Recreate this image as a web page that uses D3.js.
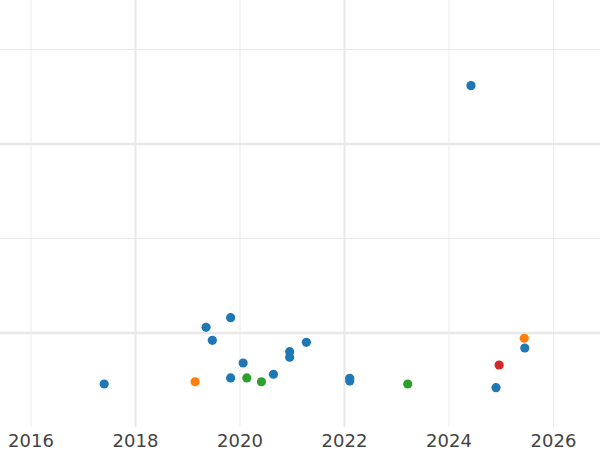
<!DOCTYPE html>
<html>
<head>
<meta charset="utf-8">
<script src="https://cdn.jsdelivr.net/npm/d3@7"></script>
<style>
  html, body { margin: 0; padding: 0; background: #fff; }
  svg { display: block; }
</style>
</head>
<body>
<svg id="chart" width="600" height="450"></svg>
<script>
// ---- data ----
const seriesNames = ["Group A", "Group B", "Group C", "Group D"];
const seriesColors = ["#1f77b4", "#ff7f0e", "#2ca02c", "#d62728"];

const groupAYears  = [2017.41, 2019.36, 2019.48, 2019.83, 2019.83, 2020.07, 2020.65, 2020.96, 2020.96, 2021.28, 2022.11, 2022.11, 2024.91, 2025.46, 2024.43];
const groupAValues = [0.455,   1.055,   0.917,   1.157,   0.519,   0.677,   0.558,   0.797,   0.738,   0.896,   0.515,   0.487,   0.416,   0.836,   3.612];
const groupBYears  = [2019.15, 2025.45];
const groupBValues = [0.479,   0.939];
const groupCYears  = [2020.14, 2020.42, 2023.22];
const groupCValues = [0.519,   0.479,   0.455];
const groupDYears  = [2024.97];
const groupDValues = [0.656];

const xTickValues = [2016, 2018, 2020, 2022, 2024, 2026];
const xTickLabels = ["2016", "2018", "2020", "2022", "2024", "2026"];
const xMajorTicks = [2018, 2022];
const yMinorTicks = [2, 4];
const yMajorTicks = [1, 3];

// ---- layout ----
const W = 600, plotH = 427;
const svg = d3.select("#chart");

const x = d3.scaleLinear().domain([2015.416, 2026.9]).range([0, W]);
const y = d3.scaleLinear().domain([0, 4.518]).range([plotH, 0]);

// gridlines
const grid = svg.append("g");
grid.append("g")
  .call(d3.axisBottom(x).tickValues(xTickValues.filter(v => !xMajorTicks.includes(v))).tickSize(plotH).tickFormat(""))
  .call(g => g.select(".domain").remove())
  .call(g => g.selectAll("line").attr("stroke", "#ebebeb").attr("stroke-width", 1));
grid.append("g")
  .call(d3.axisBottom(x).tickValues(xMajorTicks).tickSize(plotH).tickFormat(""))
  .call(g => g.select(".domain").remove())
  .call(g => g.selectAll("line").attr("stroke", "#e8e8e8").attr("stroke-width", 2));
grid.append("g")
  .call(d3.axisRight(y).tickValues(yMinorTicks).tickSize(W).tickFormat(""))
  .call(g => g.select(".domain").remove())
  .call(g => g.selectAll("line").attr("stroke", "#ebebeb").attr("stroke-width", 1));
grid.append("g")
  .call(d3.axisRight(y).tickValues(yMajorTicks).tickSize(W).tickFormat(""))
  .call(g => g.select(".domain").remove())
  .call(g => g.selectAll("line").attr("stroke", "#e8e8e8").attr("stroke-width", 2.5));

// x axis labels
svg.append("g")
  .attr("transform", `translate(0,${plotH})`)
  .call(d3.axisBottom(x).tickValues(xTickValues).tickSize(0).tickPadding(20)
    .tickFormat((d, i) => xTickLabels[i]))
  .call(g => g.select(".domain").remove())
  .call(g => g.selectAll("text")
    .attr("font-family", "DejaVu Sans, sans-serif")
    .attr("font-size", "18px")
    .attr("fill", "#444")
    .attr("dy", null));

// points
const series = [
  { name: seriesNames[0], color: seriesColors[0], xs: groupAYears, ys: groupAValues },
  { name: seriesNames[1], color: seriesColors[1], xs: groupBYears, ys: groupBValues },
  { name: seriesNames[2], color: seriesColors[2], xs: groupCYears, ys: groupCValues },
  { name: seriesNames[3], color: seriesColors[3], xs: groupDYears, ys: groupDValues }
];
series.forEach(s => {
  svg.append("g").selectAll("circle")
    .data(s.xs.map((v, i) => ({ x: v, y: s.ys[i] })))
    .join("circle")
    .attr("cx", d => x(d.x))
    .attr("cy", d => y(d.y))
    .attr("r", 4.6)
    .attr("fill", s.color);
});
</script>
</body>
</html>
